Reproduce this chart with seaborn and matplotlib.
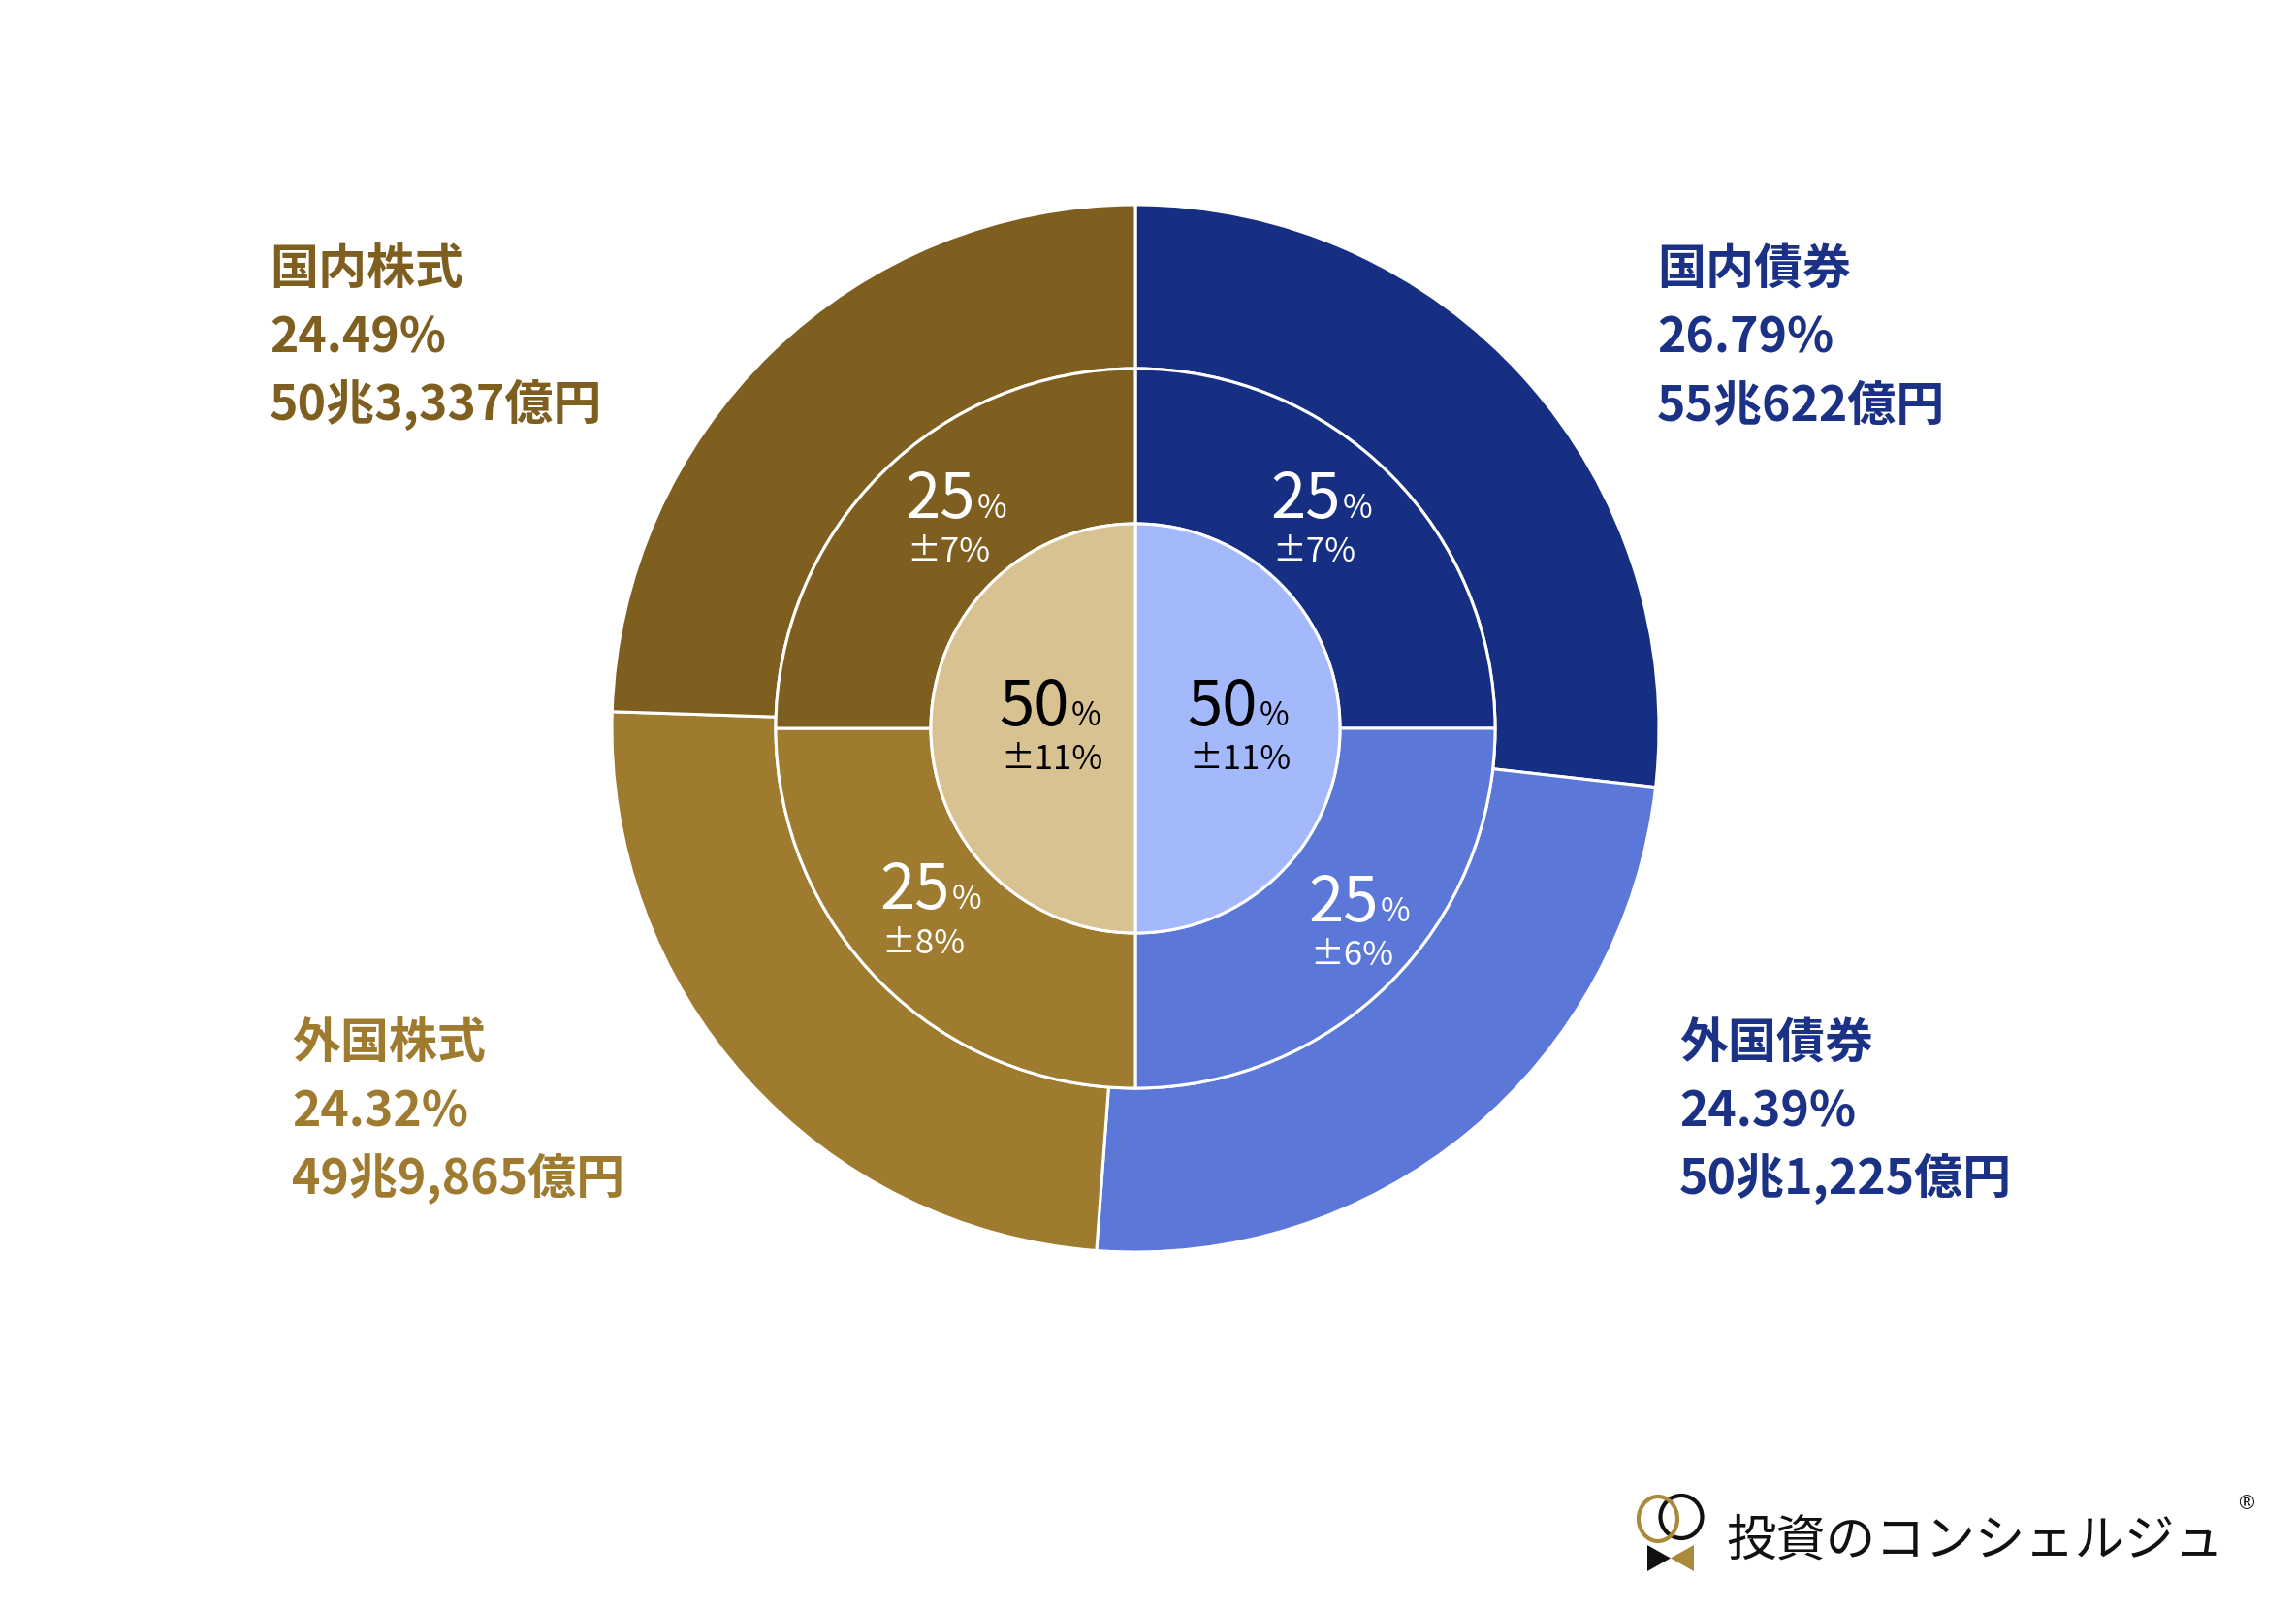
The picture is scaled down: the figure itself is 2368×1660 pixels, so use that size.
import matplotlib
matplotlib.use("Agg")
import matplotlib.pyplot as plt
import seaborn as sns
from matplotlib.patches import Ellipse, Polygon

# Data: current allocation (outer ring), policy targets (middle), bonds/stocks split (inner)
categories = ["国内債券", "外国債券", "外国株式", "国内株式"]
actual_pct = [26.79, 24.39, 24.32, 24.49]
actual_amount = ["55兆622億円", "50兆1,225億円", "49兆9,865億円", "50兆3,337億円"]
target_pct = [25, 25, 25, 25]
target_band = [7, 6, 8, 7]
class_names = ["債券", "株式"]
class_pct = [50, 50]
class_band = [11, 11]

sns.set_theme(style="white")
plt.rcParams['font.family'] = ['Noto Sans CJK JP', 'DejaVu Sans']

ring_colors = ["#172F82", "#5B78D8", "#9E7B2F", "#7E5F20"]
inner_colors = ["#A4B8FC", "#D8C291"]
label_colors = ["#1A3185", "#1A3185", "#9E7B2F", "#7E5F20"]

fig = plt.figure(figsize=(23.68, 16.60), dpi=100)
ax = fig.add_axes([0, 0, 1, 1])

cx, cy = 1171, 751
r_out, r_mid, r_in = 540, 371, 211
edge = dict(edgecolor="white", linewidth=2.2)

# y axis is inverted below, so startangle=-90 + counterclock draws clockwise from 12 o'clock
ax.pie(actual_pct, radius=r_out, center=(cx, cy), colors=ring_colors,
       startangle=-90, counterclock=True,
       wedgeprops=dict(width=r_out - r_mid, **edge))
ax.pie(target_pct, radius=r_mid, center=(cx, cy), colors=ring_colors,
       startangle=-90, counterclock=True,
       wedgeprops=dict(width=r_mid - r_in, **edge))
ax.pie(class_pct, radius=r_in, center=(cx, cy), colors=inner_colors,
       startangle=-90, counterclock=True, wedgeprops=edge)

ax.set_xlim(0, 2368)
ax.set_ylim(1660, 0)
ax.set_aspect('equal')
ax.axis('off')

# outside labels: (left x, first baseline)
label_pos = [(1709, 293), (1732, 1091), (301, 1091), (278, 293)]
for i, cat in enumerate(categories):
    x, y = label_pos[i]
    lines = [cat, f"{actual_pct[i]:.2f}%", actual_amount[i]]
    for j, s in enumerate(lines):
        ax.text(x, y + j * 70, s, fontsize=36, fontweight='bold',
                color=label_colors[i], ha='left', va='baseline')

fig.canvas.draw()
renderer = fig.canvas.get_renderer()
inv = ax.transData.inverted()


def ring_label(x, y_big, y_small, big, band, color):
    t = ax.text(x, y_big, big, fontsize=47, color=color, ha='left', va='baseline')
    bb = t.get_window_extent(renderer=renderer)
    x1 = inv.transform((bb.x1, bb.y0))[0]
    ax.text(x1 + 2, y_big, "%", fontsize=24, color=color, ha='left', va='baseline')
    ax.text(x + 2, y_small, f"±{band}%", fontsize=25, color=color,
            ha='left', va='baseline')


# middle ring labels: (left x, big baseline, small baseline)
mid_pos = [(1310, 534, 579), (1349, 950, 995), (907, 937, 983), (933, 534, 579)]
for i in range(4):
    x, yb, ys = mid_pos[i]
    ring_label(x, yb, ys, str(target_pct[i]), target_band[i], "white")

inner_pos = [(1224, 748, 793), (1030, 748, 793)]
for i in range(2):
    x, yb, ys = inner_pos[i]
    ring_label(x, yb, ys, str(class_pct[i]), class_band[i], "black")

# logo
ax.add_patch(Ellipse((1734, 1564), 43, 44, fill=False, edgecolor="#111111", linewidth=3))
ax.add_patch(Ellipse((1710, 1566), 40, 46, fill=False, edgecolor="#A88A3A", linewidth=3))
ax.add_patch(Polygon([(1699, 1593), (1699, 1620), (1723, 1606.5)], closed=True,
                     facecolor="#111111", edgecolor="none"))
ax.add_patch(Polygon([(1747, 1593), (1747, 1620), (1723, 1606.5)], closed=True,
                     facecolor="#A88A3A", edgecolor="none"))
ax.text(1780, 1604, "投資のコンシェルジュ", fontsize=37, color="#111111",
        ha='left', va='baseline')
ax.text(2306, 1550, "®", fontsize=15, color="#111111", ha='left', va='center',
        family=['DejaVu Sans'])

fig.savefig("out.png", dpi=100, facecolor="white")
